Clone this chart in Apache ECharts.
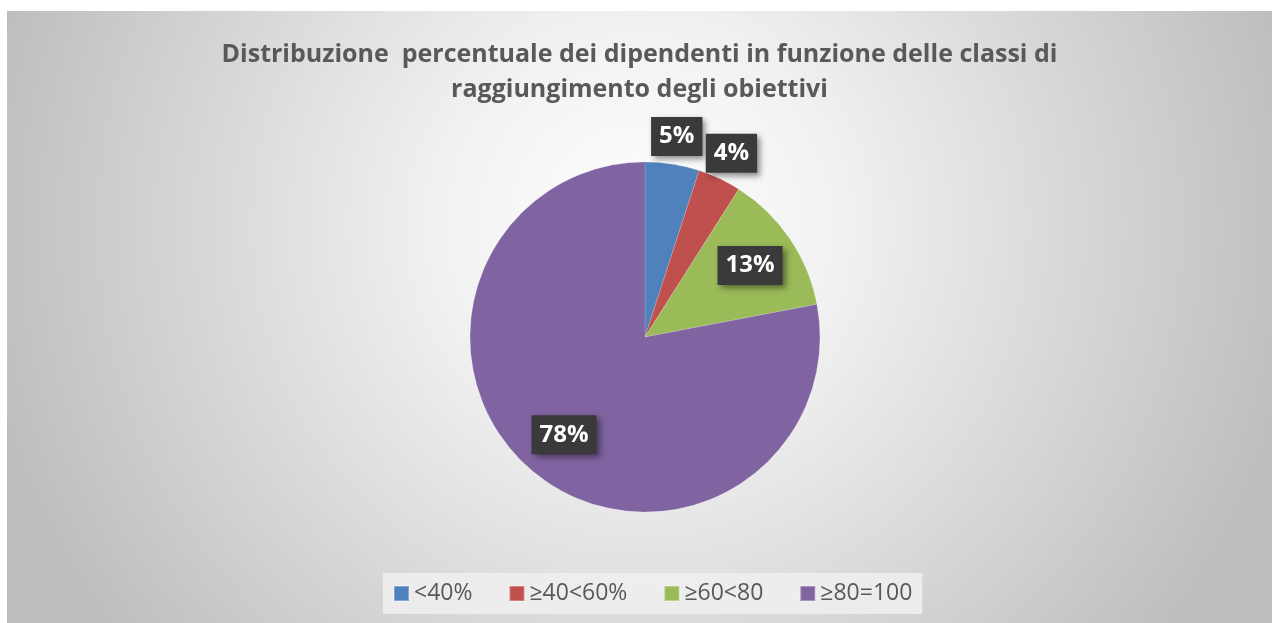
<!DOCTYPE html>
<html>
<head>
<meta charset="utf-8">
<script src="https://cdn.jsdelivr.net/npm/echarts@6/dist/echarts.min.js"></script>
<style>
  html, body { margin: 0; padding: 0; background: #fff; }
  #chart {
    position: absolute;
    left: 7px;
    top: 11px;
    width: 1265px;
    height: 612px;
  }
</style>
</head>
<body>
<div id="chart"></div>
<script>
  // categorie e valori (%)
  const categories = ['<40%', '≥40<60%', '≥60<80', '≥80=100'];
  const values = [5, 4, 13, 78];
  const colors = ['#4f81bd', '#c0504d', '#9bbb59', '#8064a2'];
  // quali etichette stanno fuori dalla torta
  const outerLabels = [true, true, false, false];
  const titleLines = [
    'Distribuzione  percentuale dei dipendenti in funzione delle classi di',
    'raggiungimento degli obiettivi'
  ];

  const chart = echarts.init(document.getElementById('chart'));

  const labelStyle = {
    show: true,
    position: 'inside',
    formatter: '{d}%',
    color: '#fff',
    fontFamily: 'Open Sans',
    fontWeight: 'bold',
    fontSize: 24,
    backgroundColor: '#3a3a3a',
    padding: [9, 8, 6, 8],
    shadowColor: 'rgba(0,0,0,0.45)',
    shadowBlur: 6,
    shadowOffsetX: 3,
    shadowOffsetY: 3
  };

  function labelSeries(name, radius, outer) {
    return {
      name: name,
      type: 'pie',
      silent: true,
      center: [638, 326],
      radius: radius,
      startAngle: 90,
      clockwise: true,
      itemStyle: { color: 'transparent' },
      labelLine: { show: false },
      data: categories.map((c, i) => ({
        name: c,
        value: values[i],
        label: Object.assign({}, labelStyle, { show: outerLabels[i] === outer })
      }))
    };
  }

  const titleStyle = {
    fontFamily: 'Open Sans',
    fontWeight: 'bold',
    fontSize: 25,
    color: '#595959'
  };

  const option = {
    backgroundColor: {
      type: 'radial',
      x: 0.5,
      y: 0.35,
      r: 1.1,
      colorStops: [
        { offset: 0, color: '#ffffff' },
        { offset: 0.3, color: '#f1f1f1' },
        { offset: 1, color: '#bdbdbd' }
      ]
    },
    title: titleLines.map((t, i) => ({
      text: t,
      left: 'center',
      top: 26 + i * 35,
      textStyle: titleStyle
    })),
    legend: {
      bottom: 9,
      left: 376,
      itemWidth: 15,
      itemHeight: 15,
      itemGap: 36,
      icon: 'rect',
      padding: [9, 10],
      backgroundColor: 'rgba(240,240,240,0.85)',
      textStyle: {
        fontFamily: 'Open Sans',
        fontSize: 23,
        color: '#595959'
      },
      data: categories
    },
    series: [
      {
        name: 'dipendenti',
        type: 'pie',
        center: [638, 326],
        radius: 175,
        startAngle: 90,
        clockwise: true,
        label: { show: false },
        labelLine: { show: false },
        itemStyle: { borderColor: 'rgba(255,255,255,0.3)', borderWidth: 0.5 },
        data: categories.map((c, i) => ({
          name: c,
          value: values[i],
          itemStyle: { color: colors[i] }
        }))
      },
      labelSeries('etichette interne', [100, 148], false),
      labelSeries('etichette esterne', [178, 222], true)
    ]
  };

  chart.setOption(option);
</script>
</body>
</html>
